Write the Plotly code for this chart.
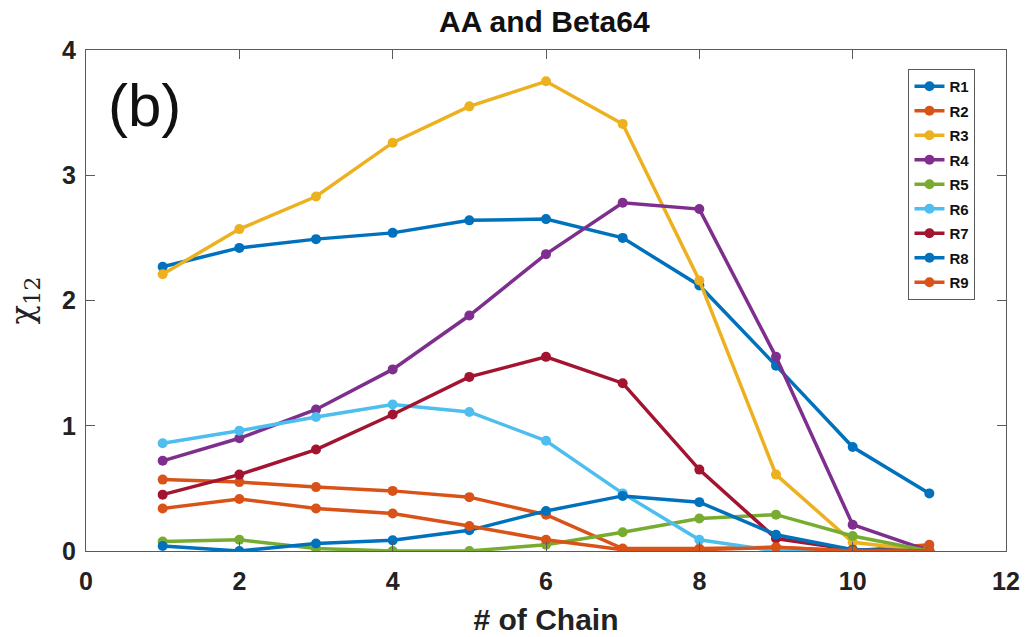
import plotly.graph_objects as go

# Number of chains on the x axis
chains = [1, 2, 3, 4, 5, 6, 7, 8, 9, 10, 11]

# chi_12 for each residue series
R1 = [2.27, 2.42, 2.49, 2.54, 2.64, 2.65, 2.50, 2.12, 1.48, 0.83, 0.46]
R2 = [0.57, 0.55, 0.51, 0.48, 0.43, 0.29, 0.02, 0.02, 0.03, 0.00, 0.05]
R3 = [2.21, 2.57, 2.83, 3.26, 3.55, 3.75, 3.41, 2.16, 0.61, 0.07, 0.00]
R4 = [0.72, 0.90, 1.13, 1.45, 1.88, 2.37, 2.78, 2.73, 1.55, 0.21, 0.00]
R5 = [0.075, 0.09, 0.02, 0.00, 0.00, 0.05, 0.15, 0.26, 0.29, 0.12, 0.00]
R6 = [0.86, 0.96, 1.07, 1.17, 1.11, 0.88, 0.46, 0.09, 0.00, 0.00, 0.00]
R7 = [0.45, 0.61, 0.81, 1.09, 1.39, 1.55, 1.34, 0.65, 0.10, 0.01, 0.00]
R8 = [0.04, 0.00, 0.06, 0.085, 0.165, 0.32, 0.44, 0.39, 0.13, 0.01, 0.00]
R9 = [0.34, 0.415, 0.34, 0.30, 0.20, 0.09, 0.01, 0.01, 0.03, 0.00, 0.00]

series_names = ["R1", "R2", "R3", "R4", "R5", "R6", "R7", "R8", "R9"]
series_values = [R1, R2, R3, R4, R5, R6, R7, R8, R9]
series_colors = ["#0072BD", "#D95319", "#EDB120", "#7E2F8E", "#77AC30",
                 "#4DBEEE", "#A2142F", "#0072BD", "#D95319"]

x_ticks = [0, 2, 4, 6, 8, 10, 12]
y_ticks = [0, 1, 2, 3, 4]

SANS = "Liberation Sans, Arial, sans-serif"

fig = go.Figure()
for name, vals, col in zip(series_names, series_values, series_colors):
    fig.add_trace(go.Scatter(
        x=chains, y=vals, name=name, mode="lines+markers",
        line=dict(color=col, width=3.5),
        marker=dict(color=col, size=10),
        legendgroup=name,
    ))

axis_common = dict(
    showgrid=False, zeroline=False, automargin=False,
    showline=True, linecolor="#5a5a5a", linewidth=1.2, mirror="ticks",
    ticks="inside", ticklen=9, tickcolor="#5a5a5a", tickwidth=1.2,
    tickfont=dict(family=SANS, size=25, color="#222222", weight="bold"),
)

fig.update_layout(
    width=1031, height=637,
    margin=dict(l=86, r=25, t=50, b=86),
    paper_bgcolor="white", plot_bgcolor="white",
    title=dict(
        text="<b>AA and Beta64</b>", x=0.528, xanchor="center", y=0.966, yanchor="middle",
        font=dict(family=SANS, size=30, color="#111111"),
    ),
    xaxis=dict(
        range=[0, 12], tickvals=x_ticks, ticklabelstandoff=8,
        title=dict(text="<b># of Chain</b>", standoff=14,
                   font=dict(family=SANS, size=30, color="#222222")),
        **axis_common,
    ),
    yaxis=dict(
        range=[0, 4], tickvals=y_ticks, ticklabelstandoff=4,
        title=dict(text="χ<sub>12</sub>", standoff=18,
                   font=dict(family="DejaVu Serif, serif", size=32, color="#222222")),
        **axis_common,
    ),
    legend=dict(
        x=0.894, y=0.962, xanchor="left", yanchor="top",
        bgcolor="white", bordercolor="#5a5a5a", borderwidth=1,
        font=dict(family=SANS, size=15, color="#111111", weight="bold"),
        tracegroupgap=2,
    ),
    showlegend=True,
)

fig.add_annotation(
    text="(b)", xref="paper", yref="paper", x=0.022, y=0.96,
    xanchor="left", yanchor="top", showarrow=False,
    font=dict(family=SANS, size=60, color="#111111"),
)

fig.write_html("out.html")
